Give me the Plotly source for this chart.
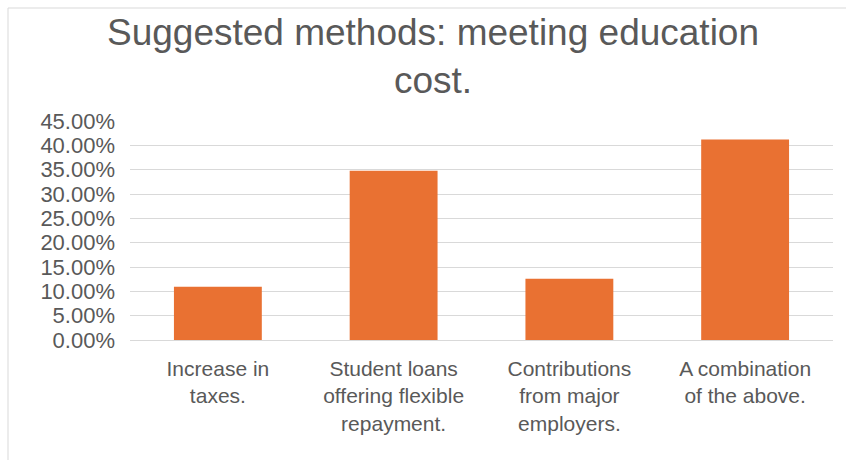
import plotly.graph_objects as go

categories = [
    "Increase in<br>taxes.",
    "Student loans<br>offering flexible<br>repayment.",
    "Contributions<br>from major<br>employers.",
    "A combination<br>of the above.",
]
values = [0.1095, 0.348, 0.126, 0.412]
tick_values = [0, 0.05, 0.10, 0.15, 0.20, 0.25, 0.30, 0.35, 0.40, 0.45]
tick_labels = ["0.00%", "5.00%", "10.00%", "15.00%", "20.00%", "25.00%",
               "30.00%", "35.00%", "40.00%", "45.00%"]
title_text = "Suggested methods: meeting education<br>cost."

W, H = 846, 460
L, R, T, B = 130, 13, 121, 120
pw, ph = W - L - R, H - T - B

fig = go.Figure(go.Bar(
    x=categories, y=values, marker_color="#E97132",
    marker_line_width=0, width=0.5,
))

fig.update_layout(
    width=W, height=H,
    margin=dict(l=L, r=R, t=T, b=B, pad=0),
    paper_bgcolor="white", plot_bgcolor="white",
    font=dict(family="Liberation Sans, Arial, sans-serif", color="#595959"),
    title=dict(text=title_text, x=433 / W, xanchor="center", xref="container",
               y=1 - 45 / H, yanchor="top", yref="container",
               font=dict(size=37, color="#595959")),
    showlegend=False,
    bargap=0.5,
)
fig.update_xaxes(showgrid=False, showline=False, ticks="",
                 ticklabelstandoff=14,
                 tickfont=dict(size=21, color="#595959"), fixedrange=True)
fig.update_yaxes(range=[0, 0.45], tickvals=tick_values, ticktext=tick_labels,
                 showgrid=True, gridcolor="#D9D9D9", gridwidth=1.3,
                 zeroline=True, zerolinecolor="#D9D9D9", zerolinewidth=1.3,
                 showline=False, ticks="", ticklabelstandoff=14,
                 tickfont=dict(size=22, color="#595959"))

# outer chart frame (top and left visible)
fig.add_shape(type="rect", xref="paper", yref="paper",
              x0=(8 - L) / pw, x1=(W + 10 - L) / pw,
              y0=(H - B - (H + 10)) / ph, y1=(H - B - 8) / ph,
              line=dict(color="#D9D9D9", width=1), fillcolor="rgba(0,0,0,0)",
              layer="below")

fig.write_html("out.html")
